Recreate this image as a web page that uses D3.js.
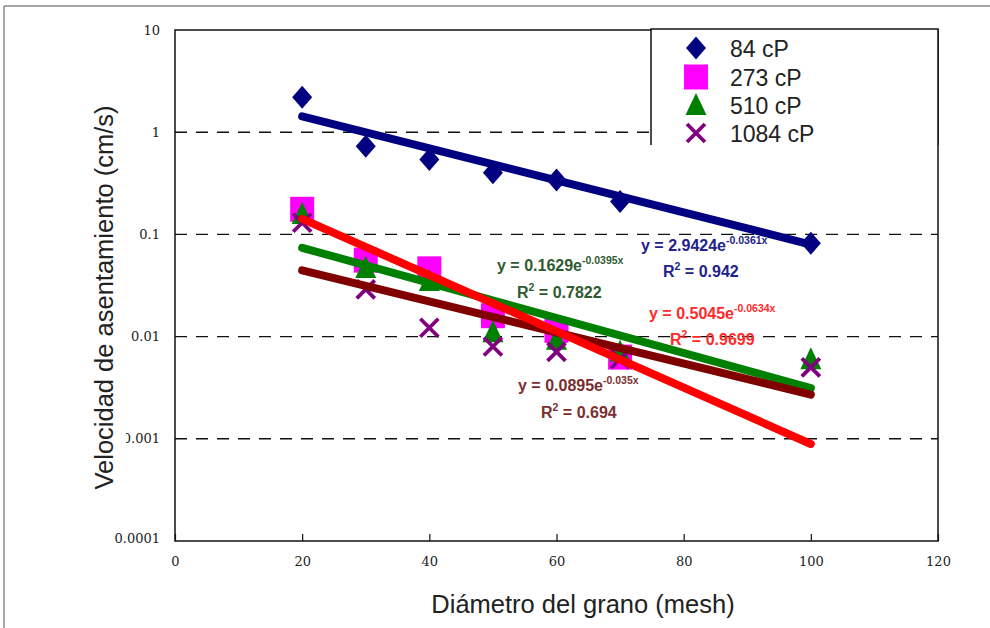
<!DOCTYPE html>
<html><head><meta charset="utf-8">
<script src="https://cdn.jsdelivr.net/npm/d3@7"></script>
<style>html,body{margin:0;padding:0;background:#fff;}svg{display:block;}</style>
</head><body>
<script>
const xValues = [20, 30, 40, 50, 60, 70, 100];
const seriesNames = ["84 cP", "273 cP", "510 cP", "1084 cP"];
const v84   = [2.2, 0.73, 0.54, 0.40, 0.34, 0.21, 0.082];
const v273  = [0.176, 0.056, 0.046, 0.016, 0.0115, 0.0063, null];
const v510  = [0.158, 0.047, 0.035, 0.011, 0.0093, 0.0071, 0.006];
const v1084 = [0.13, 0.029, 0.0122, 0.008, 0.0071, 0.006, 0.005];
const trendA = [2.9424, 0.5045, 0.1629, 0.0895];
const trendB = [-0.0361, -0.0634, -0.0395, -0.035];
const trendR2 = ["0.942", "0.9699", "0.7822", "0.694"];
const trendExpLabel = ["-0.0361x", "-0.0634x", "-0.0395x", "-0.035x"];
const trendX = [20, 100];
const xTicks = [0, 20, 40, 60, 80, 100, 120];
const yTicks = [10, 1, 0.1, 0.01, 0.001, 0.0001];
const yTickLabels = ["10", "1", "0.1", "0.01", "0.001", "0.0001"];

const W = 990, H = 628;
const svg = d3.select("body").append("svg").attr("width", W).attr("height", H);
const L = 175, R = 938, T = 30, B = 541;
const x = d3.scaleLinear().domain([0, 120]).range([L, R]);
const y = d3.scaleLog().domain([0.0001, 10]).range([B, T]);

const colors = ["#000080", "#FF00FF", "#008000", "#800080"];
const lineColors = ["#000080", "#FF0000", "#008000", "#800000"];
const labelColors = ["#22228a", "#ff2a2a", "#2f5a2f", "#7a2e2e"];

// outer frame
svg.append("line").attr("x1", 4).attr("x2", W).attr("y1", 6).attr("y2", 6).attr("stroke", "#888").attr("stroke-width", 1.5);
svg.append("line").attr("x1", 4).attr("x2", 4).attr("y1", 6).attr("y2", H).attr("stroke", "#888").attr("stroke-width", 1.5);

// gridlines
svg.append("g").selectAll("line").data(yTicks.filter(d => d < 10 && d > 0.0001)).join("line")
  .attr("x1", L).attr("x2", R).attr("y1", d => y(d)).attr("y2", d => y(d))
  .attr("stroke", "#111").attr("stroke-width", 1.4).attr("stroke-dasharray", "12,9");

// axes
const xAxis = d3.axisBottom(x).tickValues(xTicks).tickSize(-7).tickPadding(16).tickFormat(d3.format("d"));
const gx = svg.append("g").attr("transform", `translate(0,${B})`).call(xAxis);
gx.select(".domain").remove();
gx.selectAll("line").attr("stroke", "#111").attr("stroke-width", 1.2);
gx.selectAll("text").attr("font-family", "DejaVu Serif").attr("font-size", 13).attr("fill", "#222");

const yAxis = d3.axisLeft(y).tickValues(yTicks).tickSize(0).tickPadding(15).tickFormat((d, i) => yTickLabels[i]);
const gy = svg.append("g").attr("transform", `translate(${L},0)`).call(yAxis);
gy.select(".domain").remove();
gy.selectAll("text").attr("font-family", "DejaVu Serif").attr("font-size", 13).attr("fill", "#222");
gy.selectAll(".tick").filter(d => d === 0.0001).select("text").attr("dy", "0.1em");

// plot box
svg.append("rect").attr("x", L).attr("y", T).attr("width", R - L).attr("height", B - T)
  .attr("fill", "none").attr("stroke", "#111").attr("stroke-width", 1.5);

// axis titles
svg.append("rect").attr("x", 84).attr("y", 100).attr("width", 42).attr("height", 395).attr("fill", "#fff");
svg.append("text").attr("transform", `translate(113,${(T + B) / 2 + 12}) rotate(-90)`)
  .attr("text-anchor", "middle").attr("font-family", "Liberation Sans").attr("font-size", 25.5).attr("fill", "#222")
  .text("Velocidad de asentamiento (cm/s)");
svg.append("text").attr("x", 583).attr("y", 613).attr("text-anchor", "middle")
  .attr("font-family", "Liberation Sans").attr("font-size", 25.5).attr("fill", "#222")
  .text("Diámetro del grano (mesh)");

// trendline labels
const labelPos = [
  {x: 641, y: 251, rx: 663, ry: 277},
  {x: 649, y: 319, rx: 670, ry: 345},
  {x: 497, y: 271, rx: 517, ry: 298},
  {x: 518, y: 391, rx: 541, ry: 418}
];
labelPos.forEach((p, i) => {
  const t = svg.append("text").attr("x", p.x).attr("y", p.y).attr("font-family", "Liberation Sans")
    .attr("font-weight", "bold").attr("font-size", 16).attr("fill", labelColors[i]);
  t.append("tspan").text(`y = ${trendA[i]}e`);
  t.append("tspan").attr("dy", -7).attr("font-size", 10.5).text(trendExpLabel[i]);
  const r = svg.append("text").attr("x", p.rx).attr("y", p.ry).attr("font-family", "Liberation Sans")
    .attr("font-weight", "bold").attr("font-size", 16).attr("fill", labelColors[i]);
  r.append("tspan").text("R");
  r.append("tspan").attr("dy", -7).attr("font-size", 10.5).text("2");
  r.append("tspan").attr("dy", 7).text(` = ${trendR2[i]}`);
});

// markers
const diamond = "M0,-11.5L10,0L0,11.5L-10,0Z";
const square = "M-12,-12.5H12V12.5H-12Z";
const triangle = "M0,-12L10.5,10L-10.5,10Z";
function drawMarker(g, k, cx, cy) {
  if (k === 3) {
    const s = 9;
    g.append("path").attr("d", `M${cx - s},${cy - s}L${cx + s},${cy + s}M${cx + s},${cy - s}L${cx - s},${cy + s}`)
      .attr("stroke", colors[3]).attr("stroke-width", 3.8).attr("fill", "none");
  } else {
    const d = [diamond, square, triangle][k];
    g.append("path").attr("d", d).attr("transform", `translate(${cx},${cy})`).attr("fill", colors[k]);
  }
}
const allSeries = [v84, v273, v510, v1084];
const mg = svg.append("g");
allSeries.forEach((vals, k) => {
  vals.forEach((v, j) => { if (v != null) drawMarker(mg, k, x(xValues[j]), y(v)); });
});

// trendlines
const lineGen = d3.line().x(d => x(d[0])).y(d => y(d[1]));
[0, 2, 3, 1].forEach(i => {
  const pts = trendX.map(xx => [xx, trendA[i] * Math.exp(trendB[i] * xx)]);
  svg.append("path").attr("d", lineGen(pts)).attr("stroke", lineColors[i]).attr("stroke-width", 8)
    .attr("stroke-linecap", "round").attr("fill", "none");
});

// legend
const lg = svg.append("g");
lg.append("rect").attr("x", 651).attr("y", 29).attr("width", 287).attr("height", 116).attr("fill", "#fff");
lg.append("path").attr("d", "M651,145V29H938V145").attr("fill", "none").attr("stroke", "#111").attr("stroke-width", 1.5);
const legendY = [48, 77, 105, 133];
seriesNames.forEach((name, k) => {
  drawMarker(lg, k, 696, legendY[k]);
  lg.append("text").attr("x", 730).attr("y", legendY[k] + 8.5).attr("font-family", "Liberation Sans")
    .attr("font-size", 23).attr("fill", "#222").text(name);
});
</script>
</body></html>
